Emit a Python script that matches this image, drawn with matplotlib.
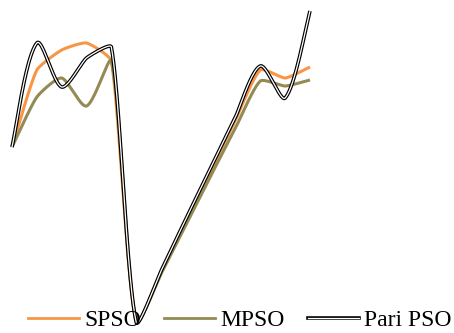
import matplotlib
matplotlib.use("Agg")
import matplotlib.pyplot as plt
from matplotlib.lines import Line2D
import numpy as np

# iteration index and fitness values
iters = list(range(13))
spso = [186, 263, 283, 290, 272, 11, 61, 112, 162, 213, 263, 255, 266]
mpso = [186, 236, 255, 227, 272, 11, 59, 108, 157, 205, 252, 247, 253]
pari = [186, 290, 246, 275, 286, 11, 62, 114, 165, 216, 267, 235, 322]

labels = ["SPSO", "MPSO", "Pari PSO"]
c_spso = "#F79646"
c_mpso = "#948A54"

step = 298 / 12.0   # pixels per iteration, used so smoothing works in screen space


def smooth(x, y, n=40, f=1 / 6.0):
	# spreadsheet-style smoothed line: bezier segments, tangents scaled by segment length
	p = np.column_stack([np.asarray(x, float) * step, np.asarray(y, float)])
	pts = []
	for i in range(len(p) - 1):
		p0 = p[i - 1] if i > 0 else p[i]
		p1 = p[i]
		p2 = p[i + 1]
		p3 = p[i + 2] if i + 2 < len(p) else p[i + 1]
		d12 = np.hypot(*(p2 - p1))
		d02 = np.hypot(*(p2 - p0))
		d13 = np.hypot(*(p3 - p1))
		b1 = min(f * d12 / d02, 0.5) if d02 > 0 else 0
		b2 = min(f * d12 / d13, 0.5) if d13 > 0 else 0
		c1 = p1 + b1 * (p2 - p0)
		c2 = p2 - b2 * (p3 - p1)
		t = np.linspace(0, 1, n)[:, None]
		seg = ((1 - t) ** 3) * p1 + 3 * ((1 - t) ** 2) * t * c1 + 3 * (1 - t) * t ** 2 * c2 + t ** 3 * p2
		pts.append(seg if i == 0 else seg[1:])
	pts = np.vstack(pts)
	return pts[:, 0] / step, pts[:, 1]


fig = plt.figure(figsize=(4.54, 3.33), dpi=100)
ax = fig.add_axes([0, 0, 1, 1])
ax.axis("off")

sx, sy = smooth(iters, spso)
ax.plot(sx, sy, color=c_spso, lw=2.2, solid_capstyle="butt")
mx, my = smooth(iters, mpso)
ax.plot(mx, my, color=c_mpso, lw=2.2, solid_capstyle="butt")
px, py = smooth(iters, pari)
ax.plot(px, py, color="black", lw=2.6, solid_capstyle="butt")
ax.plot(px, py, color="white", lw=0.9, solid_capstyle="butt")

ax.set_xlim(-12 / step, 12 + (454 - 310) / step)
ax.set_ylim(0, 333)

h1 = Line2D([], [], color=c_spso, lw=2)
h2 = Line2D([], [], color=c_mpso, lw=2)
h3a = Line2D([], [], color="black", lw=2.6)
h3b = Line2D([], [], color="white", lw=0.9)
fig.legend([h1, h2, (h3a, h3b)], labels, loc="center", ncol=3,
	bbox_to_anchor=(240 / 454, 1 - 320 / 333), frameon=False,
	prop={"family": "Liberation Serif", "size": 17},
	handlelength=2.16, handletextpad=0.21, columnspacing=1.0, borderpad=0)

fig.savefig("out.png", dpi=100)
